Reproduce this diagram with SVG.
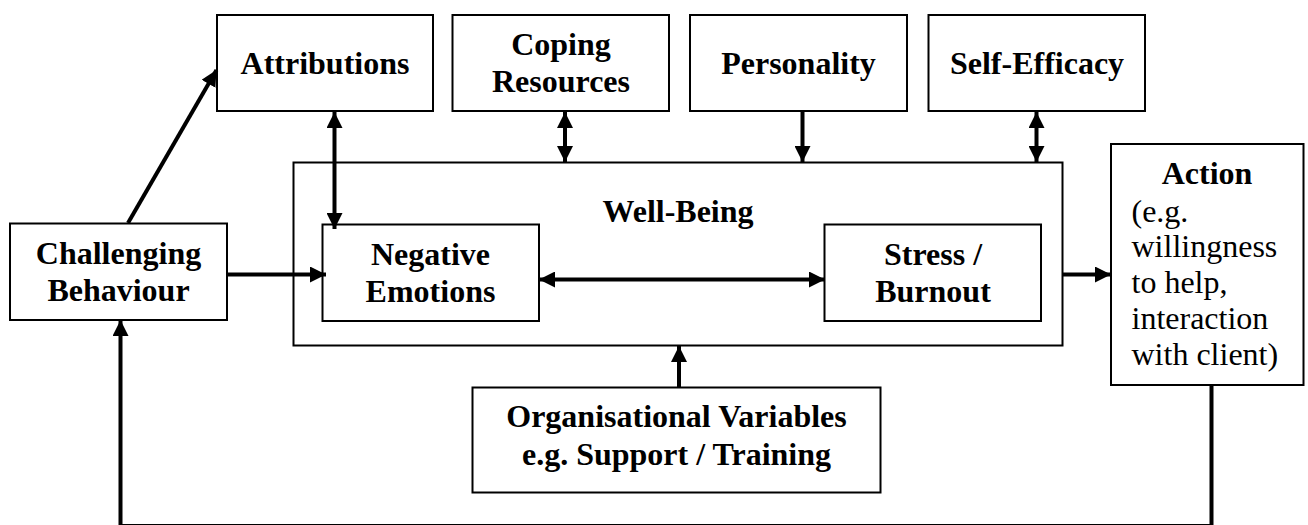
<svg xmlns="http://www.w3.org/2000/svg" width="1308" height="525" viewBox="0 0 1308 525">
<style>
.box{fill:#fff;stroke:#000;stroke-width:2}
.outer{fill:none;stroke:#000;stroke-width:2}
.t{font-size:32px;font-weight:bold;fill:#000;text-anchor:middle}
.n{font-size:32px;font-weight:normal;fill:#000}
.c{fill:none;stroke:#000;stroke-width:4}
</style>
<defs>
<marker id="ah" markerUnits="userSpaceOnUse" markerWidth="16" markerHeight="16" refX="15" refY="7.5" orient="auto-start-reverse" viewBox="0 0 15 15">
<path d="M0,0 L15,7.5 L0,15 Z" fill="#000"/>
</marker>
</defs>
<rect width="1308" height="525" fill="#fff"/>
<g id="wellbeing">
<rect class="outer" x="293.5" y="162.5" width="769" height="183"/>
<text class="t" font-family="Liberation Serif, Times New Roman, serif" x="678" y="222">Well-Being</text>
</g>
<g id="attributions">
<rect class="box" x="217" y="15" width="216" height="96"/>
<text class="t" font-family="Liberation Serif, Times New Roman, serif" x="325" y="74">Attributions</text>
</g>
<g id="coping">
<rect class="box" x="452.5" y="15" width="216.5" height="96"/>
<text class="t" font-family="Liberation Serif, Times New Roman, serif" x="561" y="55">Coping</text>
<text class="t" font-family="Liberation Serif, Times New Roman, serif" x="561" y="92">Resources</text>
</g>
<g id="personality">
<rect class="box" x="690" y="15" width="217" height="96"/>
<text class="t" font-family="Liberation Serif, Times New Roman, serif" x="798.5" y="74">Personality</text>
</g>
<g id="selfefficacy">
<rect class="box" x="928.5" y="15" width="216.5" height="96"/>
<text class="t" font-family="Liberation Serif, Times New Roman, serif" x="1037" y="74">Self-Efficacy</text>
</g>
<g id="challenging">
<rect class="box" x="10" y="223.5" width="217" height="96.5"/>
<text class="t" font-family="Liberation Serif, Times New Roman, serif" x="118.5" y="264">Challenging</text>
<text class="t" font-family="Liberation Serif, Times New Roman, serif" x="118.5" y="301">Behaviour</text>
</g>
<g id="negative">
<rect class="box" x="322.5" y="224.5" width="216.5" height="96.5"/>
<text class="t" font-family="Liberation Serif, Times New Roman, serif" x="430.5" y="265">Negative</text>
<text class="t" font-family="Liberation Serif, Times New Roman, serif" x="430.5" y="301.5">Emotions</text>
</g>
<g id="stress">
<rect class="box" x="824.5" y="224.5" width="216.5" height="96.5"/>
<text class="t" font-family="Liberation Serif, Times New Roman, serif" x="933" y="265">Stress /</text>
<text class="t" font-family="Liberation Serif, Times New Roman, serif" x="933" y="301.5">Burnout</text>
</g>
<g id="action">
<rect class="box" x="1111" y="144" width="192.5" height="241"/>
<text class="t" font-family="Liberation Serif, Times New Roman, serif" x="1207" y="184">Action</text>
<text class="n" font-family="Liberation Serif, Times New Roman, serif" x="1131.5" y="221.5">(e.g.</text>
<text class="n" font-family="Liberation Serif, Times New Roman, serif" x="1131.5" y="257">willingness</text>
<text class="n" font-family="Liberation Serif, Times New Roman, serif" x="1131.5" y="292.5">to help,</text>
<text class="n" font-family="Liberation Serif, Times New Roman, serif" x="1131.5" y="328.5">interaction</text>
<text class="n" font-family="Liberation Serif, Times New Roman, serif" x="1131.5" y="365">with client)</text>
</g>
<g id="organisational">
<rect class="box" x="472.5" y="387.5" width="408" height="105"/>
<text class="t" font-family="Liberation Serif, Times New Roman, serif" x="676.5" y="427">Organisational Variables</text>
<text class="t" font-family="Liberation Serif, Times New Roman, serif" x="676.5" y="465">e.g. Support / Training</text>
</g>
<g id="connectors">
<line class="c" x1="128" y1="223" x2="216.5" y2="70" marker-end="url(#ah)"/>
<line class="c" x1="334.5" y1="112" x2="334.5" y2="229" marker-start="url(#ah)" marker-end="url(#ah)"/>
<line class="c" x1="565" y1="112" x2="565" y2="162" marker-start="url(#ah)" marker-end="url(#ah)"/>
<line class="c" x1="802.5" y1="111" x2="802.5" y2="162" marker-end="url(#ah)"/>
<line class="c" x1="1036.5" y1="112" x2="1036.5" y2="162" marker-start="url(#ah)" marker-end="url(#ah)"/>
<line class="c" x1="227" y1="274.5" x2="326" y2="274.5" marker-end="url(#ah)"/>
<line class="c" x1="539" y1="279.5" x2="825" y2="279.5" marker-start="url(#ah)" marker-end="url(#ah)"/>
<line class="c" x1="1062" y1="274.5" x2="1111" y2="274.5" marker-end="url(#ah)"/>
<line class="c" x1="679" y1="387" x2="679" y2="346" marker-end="url(#ah)"/>
<polyline class="c" points="1211.5,385 1211.5,526 120.5,526 120.5,320" marker-end="url(#ah)"/>
</g>
</svg>
